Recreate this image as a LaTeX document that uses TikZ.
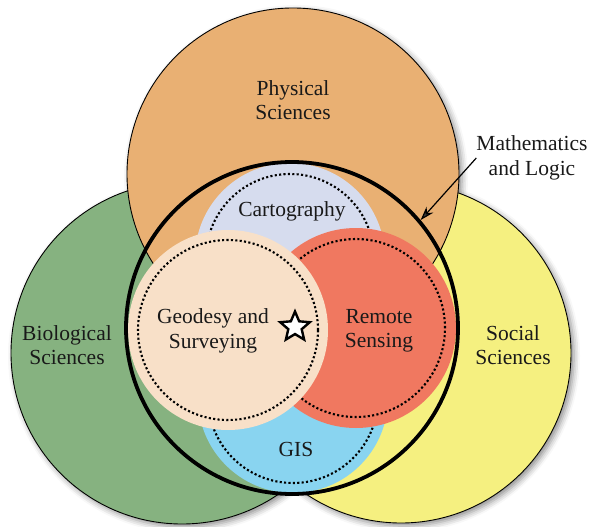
\documentclass[tikz,border=0pt]{standalone}
\usepackage{fontspec}
\setmainfont{Liberation Serif}
\usetikzlibrary{arrows.meta}
\usetikzlibrary{positioning}
\usetikzlibrary{shapes.geometric}
\usetikzlibrary{shadows.blur}

\begin{document}
\begin{tikzpicture}[x=1pt, y=-1pt,
    field/.style={circle, draw=black, line width=0.9pt, inner sep=0pt},
    area/.style={circle, inner sep=0pt},
    dotring/.style={line width=2.1pt, dash pattern=on 2.1pt off 2.3pt},
    lbl/.style={align=center, inner sep=0pt, text=black!90, font=\fontsize{21.5}{24.5}\selectfont},
    halo/.style={fill=white, blur shadow={shadow xshift=3pt, shadow yshift=-3pt, shadow blur radius=6pt, shadow opacity=45}}]
	\definecolor{PhysOrange}{RGB}{233,176,115}
	\definecolor{BioGreen}{RGB}{134,178,128}
	\definecolor{SocYellow}{RGB}{245,240,128}
	\definecolor{CartoBlue}{RGB}{214,220,238}
	\definecolor{GisBlue}{RGB}{137,212,240}
	\definecolor{GeoPeach}{RGB}{248,224,200}
	\definecolor{RemoteRed}{RGB}{240,120,96}
	
	\useasboundingbox (0,0) rectangle (589,527);
	
	\coordinate (physc) at (293,174);
	\coordinate (bioc) at (182,353);
	\coordinate (socc) at (401,353);
	
	% shadow under the three sciences
	\fill[halo] (bioc) circle[radius=171pt];
	\fill[halo] (socc) circle[radius=170pt];
	\fill[halo] (physc) circle[radius=166pt];
	
	\node[field, fill=BioGreen, minimum size=342pt] (bio) at (bioc) {};
	\node[field, fill=SocYellow, minimum size=340pt] (soc) at (socc) {};
	\node[field, fill=PhysOrange, minimum size=332pt] (phys) at (physc) {};
	
	% the four disciplines
	\node[area, fill=CartoBlue, minimum size=190pt] (carto) at (290,258) {};
	\draw[dotring] (carto) circle[radius=84pt];
	\node[area, fill=GisBlue, minimum size=190pt] (gis) at (293,398) {};
	\draw[dotring] (gis) circle[radius=85pt];
	\node[area, fill=RemoteRed, minimum size=200pt] (remote) at (356,328) {};
	\draw[dotring] (remote) circle[radius=89pt];
	\node[area, fill=GeoPeach, minimum size=200pt] (geo) at (228,330) {};
	\draw[dotring] (geo) circle[radius=90pt];
	
	\node[circle, draw=black, line width=3.8pt, minimum size=332pt, inner sep=0pt] (math) at (292,328) {};
	
	\node[star, star points=5, star point ratio=2.2, draw=black, fill=white, line width=2.4pt, minimum size=31pt, inner sep=0pt] (star) at (295,327) {};
	
	\node[lbl] (physlabel) at (293,100) {Physical\\Sciences};
	\node[lbl] (biolabel) at (67,345) {Biological\\Sciences};
	\node[lbl] (soclabel) at (513,345) {Social\\Sciences};
	\node[lbl] (cartolabel) at (292,211) {Cartography};
	\node[lbl] (gislabel) at (296,449) {GIS};
	\node[lbl] (geolabel) at (213,331) {Geodesy and\\Surveying};
	\node[lbl] (remotelabel) at (379,331) {Remote\\Sensing};
	\node[lbl] (mathlabel) at (532,158) {Mathematics\\and Logic};
	
	\draw[-{Stealth[length=14pt, width=9pt]}, line width=1.2pt] (mathlabel.west) -- (math.40);
\end{tikzpicture}
\end{document}
